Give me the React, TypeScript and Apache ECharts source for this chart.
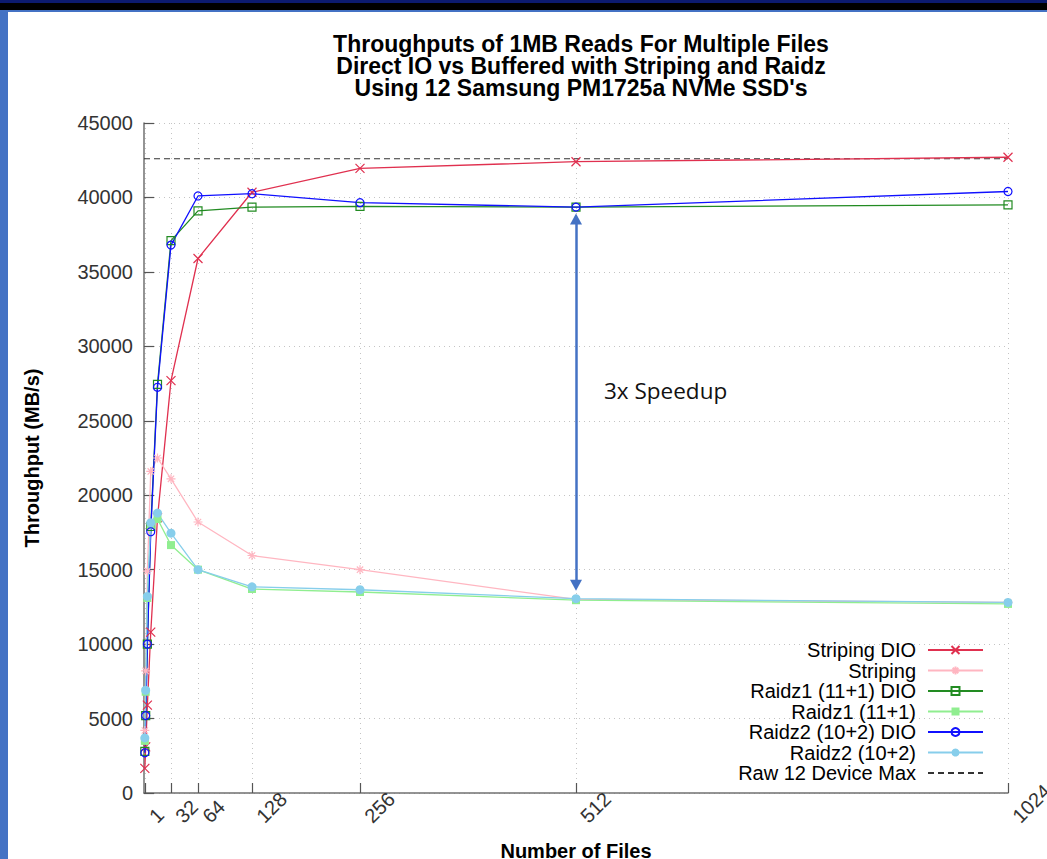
import React, { useEffect, useRef } from 'react';
import * as echarts from 'echarts';

const FONT = "'Liberation Sans', Arial, Helvetica, sans-serif";

const titleLines = [
  'Throughputs of 1MB Reads For Multiple Files',
  'Direct IO vs Buffered with Striping and Raidz',
  "Using 12 Samsung PM1725a NVMe SSD's",
];

const fileCounts = [1, 2, 4, 8, 16, 32, 64, 128, 256, 512, 1024];
const stripingDIO = [1650, 3100, 5900, 10800, 18500, 27700, 35900, 40350, 41950, 42400, 42700];
const striping = [4200, 8200, 14900, 21600, 22500, 21100, 18200, 15950, 15000, 13000, 12800];
const raidz1DIO = [2800, 5200, 10000, 17900, 27450, 37100, 39100, 39350, 39400, 39350, 39500];
const raidz1 = [3500, 6800, 13100, 18000, 18400, 16650, 15000, 13700, 13500, 12950, 12700];
const raidz2DIO = [2700, 5200, 10000, 17550, 27250, 36800, 40100, 40250, 39650, 39350, 40400];
const raidz2 = [3700, 6900, 13200, 18150, 18800, 17450, 15000, 13850, 13650, 13050, 12800];
const rawDeviceMax = 42600;
const rawRange = [0, 1024];

const xTickValues = [1, 32, 64, 128, 256, 512, 1024];
const yMin = 0;
const yMax = 45000;
const yInterval = 5000;

const speedupAt = 512;
const speedupTop = 38550;
const speedupBottom = 13950;
const speedupText = '3x Speedup';

const seriesNames = [
  'Striping DIO',
  'Striping',
  'Raidz1 (11+1) DIO',
  'Raidz1 (11+1)',
  'Raidz2 (10+2) DIO',
  'Raidz2 (10+2)',
  'Raw 12 Device Max',
];

const CROSS = 'path://M0 0L10 10M10 0L0 10';
const STAR = 'path://M5 0L5 10M0 5L10 5M1.5 1.5L8.5 8.5M8.5 1.5L1.5 8.5';

function lineSeries(name: string, values: number[], color: string, symbol: string, size: number, filled: boolean) {
  return {
    type: 'line',
    name,
    data: fileCounts.map((x, i) => [x, values[i]]),
    symbol,
    symbolSize: size,
    showSymbol: true,
    lineStyle: { color, width: 1.3 },
    itemStyle: filled
      ? { color, borderWidth: 0 }
      : { color: 'rgba(255,255,255,0)', borderColor: color, borderWidth: 1.2 },
    emphasis: { disabled: true },
    z: 3,
  };
}

export default function App() {
  const ref = useRef<HTMLDivElement>(null);
  useEffect(() => {
    if (!ref.current) return;
    const chart = echarts.init(ref.current, null, { renderer: 'svg' });
    const gridLine = { show: true, lineStyle: { color: '#c4c4c4', width: 1, type: [1, 4] } };
    const option: any = {
      animation: false,
      backgroundColor: '#ffffff',
      textStyle: { fontFamily: FONT },
      title: {
        text: titleLines.join('\n'),
        left: 576,
        top: 28,
        textAlign: 'center',
        textStyle: { fontSize: 23, fontWeight: 'bold', lineHeight: 22, color: '#000', fontFamily: FONT },
      },
      grid: { left: 144, right: 39, top: 123, bottom: 66, containLabel: false, outerBoundsMode: 'none' },
      xAxis: {
        type: 'value',
        min: 0,
        max: 1024,
        name: 'Number of Files',
        nameLocation: 'middle',
        nameGap: 48,
        nameMoveOverlap: false,
        nameTextStyle: { fontSize: 20, fontWeight: 'bold', color: '#000', fontFamily: FONT },
        axisLine: { show: true, lineStyle: { color: '#707070', width: 1.5 } },
        axisTick: { show: true, inside: true, length: 10, customValues: xTickValues, lineStyle: { color: '#555', width: 1.2 } },
        axisLabel: {
          customValues: xTickValues,
          formatter: (v: number) => String(v),
          rotate: 45,
          align: 'left',
          verticalAlign: 'middle',
          margin: 34,
          padding: [0, 0, 0, 11],
          fontSize: 20,
          color: '#333',
          fontFamily: FONT,
          showMinLabel: true,
          showMaxLabel: true,
          hideOverlap: false,
        },
        splitLine: gridLine,
      },
      yAxis: {
        type: 'value',
        min: yMin,
        max: yMax,
        interval: yInterval,
        name: 'Throughput (MB/s)',
        nameLocation: 'middle',
        nameGap: 102,
        nameRotate: 90,
        nameMoveOverlap: false,
        nameTextStyle: { fontSize: 20, fontWeight: 'bold', color: '#000', fontFamily: FONT },
        axisLine: { show: true, lineStyle: { color: '#707070', width: 1.5 } },
        axisTick: { show: true, inside: true, length: 10, lineStyle: { color: '#555', width: 1.2 } },
        axisLabel: { fontSize: 20, color: '#333', margin: 11, fontFamily: FONT, formatter: (v: number) => String(v) },
        splitLine: gridLine,
      },
      legend: {
        data: seriesNames,
        orient: 'vertical',
        right: 58,
        top: 635,
        align: 'right',
        itemWidth: 55,
        itemHeight: 10,
        itemGap: 0.5,
        selectedMode: false,
        textStyle: { fontSize: 20, lineHeight: 20, color: '#000', fontFamily: FONT, padding: [0, 7, 0, 0] },
      },
      graphic: [
        { type: 'rect', shape: { x: 0, y: 0, width: 1047, height: 3 }, style: { fill: '#0c1b70' }, silent: true },
        { type: 'rect', shape: { x: 0, y: 3, width: 1047, height: 7 }, style: { fill: '#000000' }, silent: true },
        { type: 'rect', shape: { x: 0, y: 10, width: 1047, height: 2 }, style: { fill: '#4472c4' }, silent: true },
        { type: 'rect', shape: { x: 0, y: 10, width: 8, height: 849 }, style: { fill: '#4472c4' }, silent: true },
        {
          type: 'text',
          left: 604,
          top: 379,
          style: { text: speedupText, fontSize: 22.5, fill: '#111', fontFamily: "'Open Sans', sans-serif" },
          silent: true,
        },
      ],
      series: [
        lineSeries(seriesNames[0], stripingDIO, '#e0304f', CROSS, 9, false),
        lineSeries(seriesNames[1], striping, '#ffb6c1', STAR, 9, false),
        lineSeries(seriesNames[2], raidz1DIO, '#228b22', 'rect', 8, false),
        lineSeries(seriesNames[3], raidz1, '#90ee90', 'rect', 8, true),
        lineSeries(seriesNames[4], raidz2DIO, '#1010ff', 'circle', 8, false),
        lineSeries(seriesNames[5], raidz2, '#87ceeb', 'circle', 9, true),
        {
          type: 'line',
          name: seriesNames[6],
          data: rawRange.map((x) => [x, rawDeviceMax]),
          symbol: 'circle',
          symbolSize: 0,
          showSymbol: false,
          lineStyle: { color: '#333', width: 1.2, type: [6, 4] },
          itemStyle: { color: 'rgba(0,0,0,0)', borderWidth: 0 },
          emphasis: { disabled: true },
          z: 2,
        },
        {
          type: 'line',
          name: 'speedup',
          data: [],
          symbol: 'none',
          markLine: {
            silent: true,
            symbol: ['triangle', 'triangle'],
            symbolSize: [12, 11],
            label: { show: false },
            lineStyle: { color: '#4472c4', width: 2.5, type: 'solid' },
            emphasis: { disabled: true },
            data: [[{ coord: [speedupAt, speedupTop] }, { coord: [speedupAt, speedupBottom] }]],
          },
          z: 4,
        },
      ],
    };
    chart.setOption(option);
    return () => chart.dispose();
  }, []);
  return <div ref={ref} style={{ position: 'absolute', left: 0, top: 0, width: 1047, height: 859 }} />;
}
